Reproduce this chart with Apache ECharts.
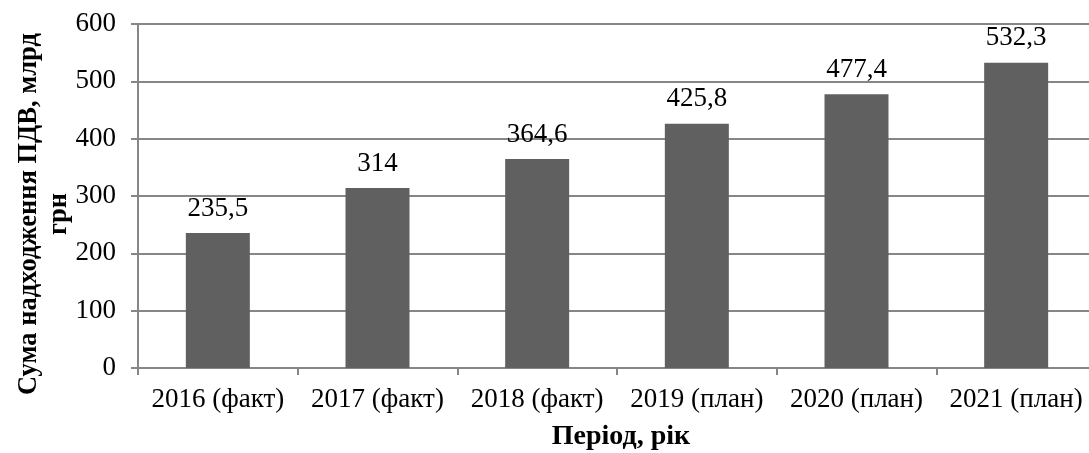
<!DOCTYPE html>
<html><head><meta charset="utf-8">
<script src="https://cdn.jsdelivr.net/npm/echarts@6/dist/echarts.min.js"></script>
<style>html,body{margin:0;padding:0;background:#fff}#c{width:1089px;height:453px}</style>
</head><body><div id="c"></div>
<script>
const categories = ['2016 (факт)', '2017 (факт)', '2018 (факт)', '2019 (план)', '2020 (план)', '2021 (план)'];
const values = [235.5, 314, 364.6, 425.8, 477.4, 532.3];
const yTicks = {min: 0, max: 600, interval: 100};
const yName = 'Сума надходження ПДВ, млрд\nгрн';
const xName = 'Період, рік';

const font = "'Liberation Serif', 'Times New Roman', serif";
const chart = echarts.init(document.getElementById('c'), null, {renderer: 'canvas'});
chart.setOption({
  animation: false,
  grid: {left: 138, right: -7, top: 24, bottom: 85, containLabel: false, outerBoundsMode: 'none'},
  xAxis: {
    type: 'category', data: categories,
    name: xName, nameLocation: 'middle', nameGap: 55, nameMoveOverlap: false,
    nameTextStyle: {fontFamily: font, fontSize: 28, fontWeight: 'bold', color: '#000', padding: [0, 0, 0, 8]},
    axisLine: {lineStyle: {color: '#868686', width: 2}},
    axisTick: {show: true, alignWithLabel: false, length: 7, lineStyle: {color: '#868686', width: 2}},
    axisLabel: {fontFamily: font, fontSize: 27, color: '#000', margin: 18, interval: 0},
    splitLine: {show: false}
  },
  yAxis: {
    type: 'value', min: yTicks.min, max: yTicks.max, interval: yTicks.interval,
    name: yName, nameLocation: 'middle', nameRotate: 90, nameGap: 64, nameMoveOverlap: false,
    nameTextStyle: {fontFamily: font, fontSize: 26.5, fontWeight: 'bold', color: '#000', lineHeight: 30, padding: [0, 36, 0, 0]},
    axisLine: {show: true, lineStyle: {color: '#868686', width: 2}},
    axisTick: {show: true, length: 7, lineStyle: {color: '#868686', width: 2}},
    axisLabel: {fontFamily: font, fontSize: 27, color: '#000', margin: 22},
    splitLine: {lineStyle: {color: '#868686', width: 2}}
  },
  series: [{
    type: 'bar', data: values, barWidth: 64,
    itemStyle: {color: '#606060'},
    label: {
      show: true, position: 'top', distance: 11,
      fontFamily: font, fontSize: 27, color: '#000',
      formatter: p => String(p.value).replace('.', ',')
    }
  }]
});
</script></body></html>
